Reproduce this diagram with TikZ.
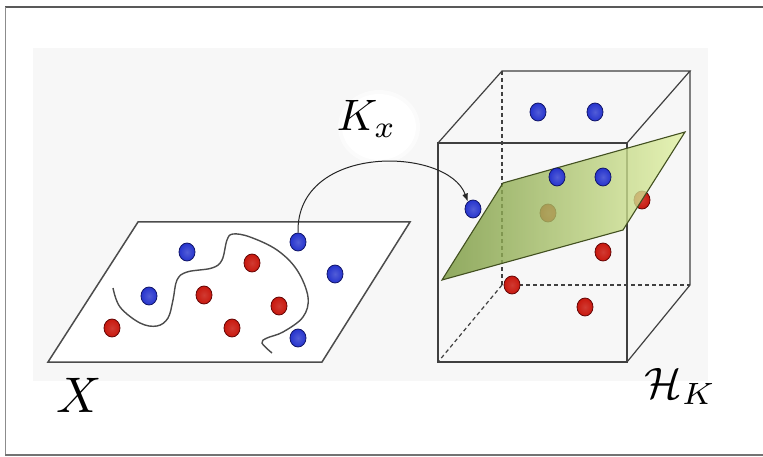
\documentclass[tikz,border=0pt]{standalone}
\usepackage{tikz}
\usetikzlibrary{shapes.geometric, arrows.meta, calc}

\definecolor{dotblue}{RGB}{38,52,205}
\definecolor{dotblueedge}{RGB}{18,22,105}
\definecolor{dotred}{RGB}{200,24,14}
\definecolor{dotrededge}{RGB}{100,6,6}
\definecolor{planelight}{RGB}{226,242,165}
\definecolor{planedark}{RGB}{118,150,58}
\definecolor{planeedge}{RGB}{66,80,32}

\begin{document}
\begin{tikzpicture}[
  x=1pt, y=-1pt,
  dot/.style={ellipse, minimum width=16pt, minimum height=18pt, inner sep=0pt, line width=0.8pt},
  bluedot/.style={dot, draw=dotblueedge, inner color=dotblue!80!white, outer color=dotblue},
  reddot/.style={dot, draw=dotrededge, inner color=dotred!85!white, outer color=dotred},
  cubeline/.style={draw=black!75, line width=1.2pt},
  cubehidden/.style={cubeline, dash pattern=on 4pt off 3pt},
  arr/.style={-{Latex[length=8pt, width=6pt]}, black!85, line width=1pt},
  mathlbl/.style={scale=#1, inner sep=0pt},
  mathlbl/.default=4.4
]
\useasboundingbox (0,0) rectangle (763,457);

% ---- FRAME AND BACKGROUND ----
\fill[black!3] (33,48) rectangle (708,381);
\draw[black!65, line width=2pt] (5,7) -- (763,7);
\draw[black!45, line width=0.8pt] (5,7) -- (5,455);
\draw[black!55, line width=1.5pt] (5,455) -- (763,455);

% ---- INPUT SPACE X ----
\draw[fill=white, draw=black!70, line width=1.5pt]
  (48,362) -- (322,362) -- (410,222) -- (138,222) -- cycle;
\draw[black!70, line width=1.4pt] plot[smooth, tension=0.6] coordinates {
  (113,288) (120,307) (140,323) (157,326) (168,318) (173,300) (177,280)
  (187,272) (212,268) (222,260) (227,240) (233,234) (250,237) (277,250)
  (297,270) (308,297) (303,317) (283,332) (267,338) (262,343) (272,353)};
\foreach \x/\y [count=\i] in {187/252, 298/242, 335/274, 149/296, 298/338}
  \node[bluedot] (lb\i) at (\x,\y) {};
\foreach \x/\y [count=\i] in {252/263, 204/295, 279/306, 112/328, 232/328}
  \node[reddot] (lr\i) at (\x,\y) {};
\node[mathlbl=5, anchor=base west] (xlbl) at (55,412) {$X$};

% ---- FEATURE SPACE H_K ----
\coordinate (ftl) at (438,143);
\coordinate (ftr) at (627,143);
\coordinate (fbl) at (438,362);
\coordinate (fbr) at (627,362);
\coordinate (btl) at (502,71);
\coordinate (btr) at (690,71);
\coordinate (bbl) at (502,285);
\coordinate (bbr) at (690,285);
\draw[cubeline] (ftl) rectangle (fbr);
\draw[cubeline] (ftl) -- (btl) -- (btr) -- (ftr);
\draw[cubeline] (btr) -- (bbr) -- (fbr);
\draw[cubehidden] (btl) -- (bbl) -- (bbr);
\draw[cubehidden] (bbl) -- (fbl);

% points behind the hyperplane
\node[reddot] (hr1) at (548,213) {};
\node[reddot] (hr2) at (642,200) {};
\node[reddot] (hr3) at (603,252) {};
\node[reddot] (hr4) at (512,285) {};
\node[reddot] (hr5) at (585,307) {};

% hyperplane
\shade[left color=planedark, right color=planelight, opacity=0.8]
  (442,280) -- (503,183) -- (685,132) -- (623,230) -- cycle;
\draw[planeedge, line width=1.1pt]
  (442,280) -- (503,183) -- (685,132) -- (623,230) -- cycle;

\foreach \x/\y [count=\i] in {538/112, 595/112, 557/177, 603/177, 473/209}
  \node[bluedot] (hb\i) at (\x,\y) {};
\node[mathlbl, anchor=base west] (hk) at (644,398) {$\mathcal{H}_K$};

% ---- FEATURE MAP K_x ----
\fill[white, opacity=0.5] (379,127) ellipse [x radius=41pt, y radius=37pt];
\fill[white] (379,127) ellipse [x radius=37pt, y radius=33pt];
\node[mathlbl, anchor=base west] (kx) at (336,131) {$K_x$};
\draw[arr] (lb2.north) .. controls +(-2,-90) and +(-20,-55) .. (hb5.125);
\end{tikzpicture}
\end{document}
